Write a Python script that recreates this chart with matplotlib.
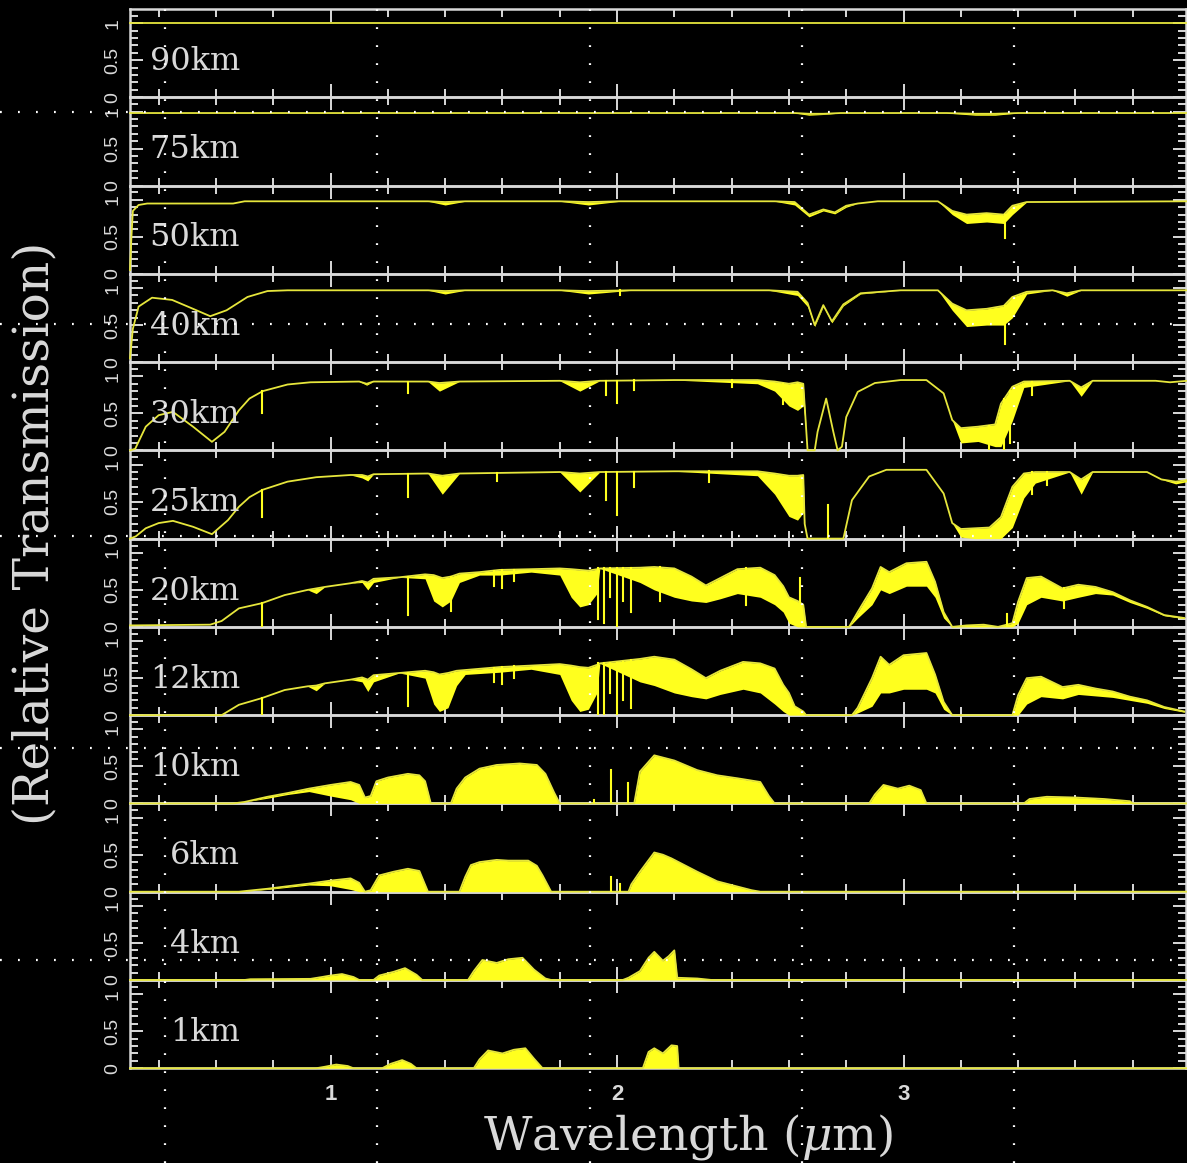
import matplotlib.pyplot as plt
import matplotlib.transforms as mtransforms
from matplotlib.lines import Line2D
from matplotlib.ticker import FixedLocator, MultipleLocator

plt.rcParams['font.family'] = ['DejaVu Serif']
plt.rcParams['mathtext.fontset'] = 'dejavuserif'

FG = '#d9d9d9'
YEL = '#ffff1e'
LINE = '#e6e63c'

# transmission per altitude: wavelength (um), upper envelope, lower envelope
# of the absorption forest, plus single lines as (um, top, bottom)
wl_90 = [0.30, 3.99]
hi_90 = [1.00, 1.00]
lo_90 = [1.00, 1.00]
sp_90 = []

wl_75 = [0.30, 2.62, 2.67, 2.72, 2.78, 3.15, 3.25, 3.32, 3.40, 3.99]
hi_75 = [0.98, 0.98, 0.97, 0.97, 0.98, 0.98, 0.97, 0.97, 0.98, 0.98]
lo_75 = [0.98, 0.98, 0.95, 0.96, 0.98, 0.98, 0.95, 0.95, 0.98, 0.98]
sp_75 = []

wl_50 = [0.30, 0.305, 0.31, 0.33, 0.36, 0.66, 0.70, 1.34, 1.40, 1.47, 1.80, 1.90, 2.01,
         2.55, 2.62, 2.67, 2.72, 2.76, 2.80, 2.84, 2.91,
         3.12, 3.17, 3.22, 3.29, 3.35, 3.38, 3.43, 3.99]
hi_50 = [0.05, 0.50, 0.85, 0.93, 0.95, 0.95, 0.98, 0.98, 0.97, 0.98, 0.98, 0.97, 0.98,
         0.98, 0.97, 0.80, 0.87, 0.83, 0.92, 0.95, 0.98,
         0.98, 0.85, 0.80, 0.82, 0.80, 0.92, 0.97, 0.98]
lo_50 = [0.05, 0.50, 0.85, 0.93, 0.95, 0.95, 0.98, 0.98, 0.93, 0.98, 0.98, 0.93, 0.98,
         0.98, 0.93, 0.77, 0.85, 0.81, 0.90, 0.95, 0.98,
         0.98, 0.80, 0.68, 0.70, 0.68, 0.80, 0.97, 0.98]
sp_50 = [(3.355, 0.80, 0.49)]

wl_40 = [0.30, 0.31, 0.33, 0.377, 0.447, 0.52, 0.58, 0.637, 0.71, 0.78, 0.85,
         1.34, 1.40, 1.47, 1.80, 1.90, 2.05,
         2.53, 2.63, 2.665, 2.69, 2.72, 2.75, 2.79, 2.85, 2.99,
         3.12, 3.17, 3.22, 3.29, 3.35, 3.38, 3.43, 3.52, 3.57, 3.62, 3.99]
hi_40 = [0.05, 0.45, 0.75, 0.87, 0.84, 0.72, 0.62, 0.70, 0.88, 0.96, 0.97,
         0.97, 0.96, 0.97, 0.97, 0.96, 0.97,
         0.97, 0.95, 0.80, 0.50, 0.77, 0.55, 0.78, 0.93, 0.97,
         0.97, 0.79, 0.70, 0.72, 0.76, 0.88, 0.95, 0.97, 0.93, 0.97, 0.97]
lo_40 = [0.05, 0.45, 0.75, 0.87, 0.84, 0.72, 0.62, 0.70, 0.88, 0.96, 0.97,
         0.97, 0.92, 0.97, 0.97, 0.92, 0.97,
         0.97, 0.90, 0.75, 0.48, 0.75, 0.53, 0.76, 0.92, 0.97,
         0.97, 0.70, 0.48, 0.50, 0.50, 0.60, 0.92, 0.97, 0.89, 0.97, 0.97]
sp_40 = [(3.355, 0.76, 0.25), (2.01, 0.97, 0.90)]

wl_30 = [0.30, 0.318, 0.355, 0.40, 0.45, 0.52, 0.586, 0.63, 0.68, 0.717, 0.763, 0.85, 0.93,
         1.10, 1.126, 1.15, 1.34, 1.38, 1.45, 1.80, 1.87, 1.94, 2.20,
         2.49, 2.55, 2.60, 2.63, 2.65, 2.66, 2.665, 2.69, 2.70, 2.73, 2.755, 2.77, 2.785,
         2.80, 2.84, 2.90, 2.99, 3.08, 3.14, 3.17, 3.20, 3.26, 3.32, 3.34, 3.38, 3.42,
         3.58, 3.62, 3.66, 3.88, 3.93, 3.99]
hi_30 = [0.00, 0.02, 0.32, 0.475, 0.52, 0.32, 0.115, 0.25, 0.54, 0.70, 0.80, 0.89, 0.92,
         0.93, 0.90, 0.93, 0.93, 0.91, 0.93, 0.94, 0.92, 0.94, 0.95,
         0.95, 0.93, 0.90, 0.92, 0.90, 0.30, 0.00, 0.00, 0.25, 0.70, 0.25, 0.00, 0.05,
         0.45, 0.79, 0.91, 0.95, 0.95, 0.77, 0.41, 0.30, 0.32, 0.35, 0.63, 0.86, 0.93,
         0.94, 0.85, 0.94, 0.94, 0.92, 0.94]
lo_30 = [0.00, 0.02, 0.32, 0.475, 0.52, 0.32, 0.115, 0.25, 0.54, 0.70, 0.80, 0.89, 0.92,
         0.93, 0.88, 0.93, 0.93, 0.80, 0.93, 0.94, 0.80, 0.94, 0.95,
         0.90, 0.80, 0.60, 0.54, 0.60, 0.30, 0.00, 0.00, 0.25, 0.70, 0.25, 0.00, 0.05,
         0.45, 0.79, 0.91, 0.95, 0.95, 0.77, 0.41, 0.10, 0.12, 0.05, 0.05, 0.40, 0.85,
         0.94, 0.73, 0.94, 0.94, 0.92, 0.94]
sp_30 = [(0.762, 0.80, 0.50), (1.27, 0.93, 0.77), (1.96, 0.94, 0.75), (2.00, 0.94, 0.64),
         (2.06, 0.95, 0.82), (2.40, 0.95, 0.86), (2.58, 0.90, 0.62), (3.30, 0.33, 0.00),
         (3.35, 0.70, 0.00), (3.37, 0.80, 0.10), (3.45, 0.93, 0.75)]

wl_25 = [0.30, 0.32, 0.355, 0.40, 0.45, 0.52, 0.586, 0.642, 0.68, 0.717, 0.763, 0.85, 0.95,
         1.07, 1.11, 1.13, 1.15, 1.34, 1.39, 1.45, 1.80, 1.87, 1.94, 2.20,
         2.49, 2.55, 2.60, 2.63, 2.65, 2.655, 2.665, 2.79, 2.82, 2.88, 2.94,
         3.08, 3.14, 3.17, 3.20, 3.25, 3.30, 3.34, 3.38, 3.42, 3.46,
         3.58, 3.62, 3.66, 3.85, 3.90, 3.95, 3.99]
hi_25 = [0.00, 0.03, 0.14, 0.21, 0.24, 0.16, 0.06, 0.25, 0.43, 0.56, 0.66, 0.77, 0.83,
         0.86, 0.86, 0.84, 0.87, 0.88, 0.85, 0.88, 0.90, 0.88, 0.90, 0.91,
         0.91, 0.88, 0.85, 0.85, 0.86, 0.20, 0.00, 0.00, 0.52, 0.84, 0.93,
         0.93, 0.61, 0.21, 0.13, 0.14, 0.15, 0.29, 0.70, 0.88, 0.90,
         0.90, 0.80, 0.90, 0.90, 0.80, 0.77, 0.79]
lo_25 = [0.00, 0.03, 0.14, 0.21, 0.24, 0.16, 0.06, 0.25, 0.43, 0.56, 0.66, 0.77, 0.83,
         0.86, 0.82, 0.78, 0.87, 0.88, 0.60, 0.88, 0.90, 0.63, 0.90, 0.91,
         0.85, 0.60, 0.30, 0.25, 0.35, 0.20, 0.00, 0.00, 0.52, 0.84, 0.93,
         0.93, 0.61, 0.21, 0.02, 0.00, 0.00, 0.00, 0.15, 0.55, 0.75,
         0.90, 0.60, 0.90, 0.90, 0.80, 0.74, 0.77]
sp_25 = [(0.762, 0.66, 0.29), (1.27, 0.88, 0.56), (1.58, 0.89, 0.78), (1.96, 0.90, 0.52),
         (2.00, 0.90, 0.32), (2.06, 0.90, 0.70), (2.32, 0.91, 0.76), (2.735, 0.45, 0.00),
         (3.45, 0.90, 0.60), (3.50, 0.90, 0.72)]

wl_20 = [0.30, 0.58, 0.62, 0.68, 0.76, 0.84, 0.92, 0.95, 0.98, 1.07, 1.11, 1.13, 1.15,
         1.24, 1.33, 1.36, 1.39, 1.42, 1.45, 1.52, 1.59, 1.70, 1.80, 1.84, 1.87, 1.90,
         1.93, 1.94, 2.08, 2.13, 2.20, 2.26, 2.31, 2.36, 2.42, 2.50, 2.55, 2.58, 2.60,
         2.63, 2.65, 2.66, 2.81, 2.84, 2.89, 2.92, 2.95, 3.01, 3.08, 3.11, 3.14, 3.17,
         3.22, 3.28, 3.33, 3.38, 3.40, 3.43, 3.48, 3.555, 3.61, 3.67, 3.73, 3.79, 3.85,
         3.91, 3.98]
hi_20 = [0.02, 0.03, 0.08, 0.25, 0.32, 0.43, 0.50, 0.52, 0.54, 0.59, 0.62, 0.60, 0.65,
         0.67, 0.71, 0.70, 0.66, 0.68, 0.72, 0.74, 0.77, 0.78, 0.79, 0.78, 0.77, 0.76,
         0.78, 0.79, 0.80, 0.81, 0.79, 0.68, 0.56, 0.66, 0.78, 0.80, 0.70, 0.55, 0.40,
         0.35, 0.30, 0.00, 0.00, 0.20, 0.52, 0.81, 0.74, 0.86, 0.88, 0.61, 0.20, 0.00,
         0.02, 0.03, 0.00, 0.05, 0.34, 0.66, 0.68, 0.52, 0.57, 0.54, 0.47, 0.36, 0.27,
         0.16, 0.12]
lo_20 = [0.02, 0.03, 0.08, 0.25, 0.32, 0.43, 0.50, 0.45, 0.54, 0.59, 0.60, 0.50, 0.60,
         0.67, 0.65, 0.35, 0.27, 0.35, 0.60, 0.70, 0.70, 0.74, 0.70, 0.40, 0.27, 0.30,
         0.45, 0.79, 0.60, 0.50, 0.40, 0.35, 0.33, 0.38, 0.45, 0.40, 0.30, 0.20, 0.05,
         0.00, 0.00, 0.00, 0.00, 0.12, 0.30, 0.50, 0.45, 0.55, 0.55, 0.40, 0.12, 0.00,
         0.00, 0.00, 0.00, 0.00, 0.05, 0.30, 0.40, 0.35, 0.40, 0.45, 0.43, 0.33, 0.25,
         0.15, 0.11]
sp_20 = [(0.762, 0.32, 0.00), (1.27, 0.68, 0.16), (1.42, 0.68, 0.21), (1.57, 0.76, 0.55),
         (1.60, 0.77, 0.52), (1.64, 0.77, 0.62), (1.935, 0.79, 0.10), (1.955, 0.79, 0.05),
         (1.975, 0.79, 0.40), (2.00, 0.79, 0.00), (2.02, 0.79, 0.35), (2.05, 0.80, 0.20),
         (2.15, 0.81, 0.35), (2.45, 0.79, 0.30), (2.64, 0.66, 0.00), (3.36, 0.18, 0.00),
         (3.56, 0.52, 0.25)]

wl_12 = [0.30, 0.62, 0.68, 0.76, 0.84, 0.92, 0.95, 0.98, 1.07, 1.11, 1.13, 1.15, 1.24,
         1.33, 1.36, 1.38, 1.41, 1.44, 1.47, 1.59, 1.70, 1.80, 1.84, 1.87, 1.90, 1.93,
         1.94, 2.08, 2.13, 2.20, 2.26, 2.31, 2.36, 2.44, 2.50, 2.55, 2.58, 2.60, 2.62,
         2.65, 2.66, 2.82, 2.84, 2.89, 2.92, 2.95, 3.00, 3.08, 3.11, 3.14, 3.17, 3.38,
         3.40, 3.43, 3.48, 3.555, 3.61, 3.67, 3.73, 3.79, 3.85, 3.91, 3.98]
hi_12 = [0.00, 0.00, 0.14, 0.23, 0.34, 0.39, 0.40, 0.43, 0.48, 0.51, 0.48, 0.54, 0.57,
         0.60, 0.58, 0.55, 0.57, 0.60, 0.61, 0.65, 0.67, 0.69, 0.67, 0.65, 0.64, 0.68,
         0.70, 0.76, 0.79, 0.75, 0.62, 0.50, 0.60, 0.72, 0.70, 0.63, 0.41, 0.30, 0.12,
         0.05, 0.00, 0.00, 0.10, 0.50, 0.79, 0.68, 0.81, 0.84, 0.55, 0.18, 0.00, 0.00,
         0.27, 0.50, 0.52, 0.38, 0.41, 0.36, 0.32, 0.25, 0.20, 0.11, 0.05]
lo_12 = [0.00, 0.00, 0.14, 0.23, 0.34, 0.39, 0.33, 0.43, 0.48, 0.45, 0.32, 0.45, 0.57,
         0.50, 0.15, 0.05, 0.10, 0.40, 0.55, 0.58, 0.62, 0.55, 0.20, 0.05, 0.08, 0.30,
         0.70, 0.45, 0.40, 0.30, 0.25, 0.22, 0.28, 0.35, 0.30, 0.15, 0.05, 0.00, 0.00,
         0.00, 0.00, 0.00, 0.03, 0.12, 0.30, 0.30, 0.35, 0.35, 0.30, 0.08, 0.00, 0.00,
         0.00, 0.15, 0.25, 0.22, 0.28, 0.26, 0.24, 0.20, 0.16, 0.09, 0.04]
sp_12 = [(0.762, 0.23, 0.00), (1.27, 0.57, 0.12), (1.57, 0.64, 0.45), (1.60, 0.65, 0.42),
         (1.64, 0.66, 0.50), (1.935, 0.70, 0.00), (1.955, 0.70, 0.00), (1.975, 0.70, 0.30),
         (2.00, 0.70, 0.00), (2.02, 0.72, 0.20), (2.05, 0.74, 0.10)]

wl_10 = [0.30, 0.66, 0.70, 0.78, 0.85, 0.925, 1.00, 1.07, 1.10, 1.12, 1.14, 1.16, 1.20,
         1.27, 1.31, 1.33, 1.35, 1.42, 1.44, 1.47, 1.52, 1.58, 1.66, 1.72, 1.75, 1.78,
         1.80, 2.06, 2.08, 2.13, 2.20, 2.28, 2.35, 2.42, 2.50, 2.53, 2.55, 2.88, 2.90,
         2.93, 2.98, 3.02, 3.06, 3.08, 3.42, 3.44, 3.50, 3.60, 3.70, 3.79, 3.80, 3.99]
hi_10 = [0.00, 0.00, 0.02, 0.09, 0.14, 0.20, 0.25, 0.29, 0.25, 0.08, 0.10, 0.30, 0.35,
         0.40, 0.38, 0.30, 0.00, 0.00, 0.20, 0.35, 0.47, 0.52, 0.54, 0.52, 0.40, 0.15,
         0.00, 0.00, 0.43, 0.65, 0.58, 0.45, 0.38, 0.34, 0.29, 0.10, 0.00, 0.00, 0.12,
         0.25, 0.20, 0.24, 0.18, 0.00, 0.00, 0.06, 0.09, 0.08, 0.06, 0.03, 0.00, 0.00]
lo_10 = [0.00, 0.00, 0.02, 0.07, 0.12, 0.16, 0.10, 0.05, 0.00, 0.00, 0.00, 0.00, 0.00,
         0.00, 0.00, 0.00, 0.00, 0.00, 0.00, 0.00, 0.00, 0.00, 0.00, 0.00, 0.00, 0.00,
         0.00, 0.00, 0.00, 0.00, 0.00, 0.00, 0.00, 0.00, 0.00, 0.00, 0.00, 0.00, 0.00,
         0.00, 0.00, 0.00, 0.00, 0.00, 0.00, 0.00, 0.00, 0.00, 0.00, 0.00, 0.00, 0.00]
sp_10 = [(1.92, 0.05, 0.00), (1.98, 0.45, 0.00), (2.04, 0.27, 0.00)]

wl_6 = [0.30, 0.68, 0.78, 0.925, 1.00, 1.07, 1.10, 1.12, 1.14, 1.17, 1.22, 1.27, 1.31,
        1.34, 1.45, 1.47, 1.49, 1.52, 1.58, 1.62, 1.69, 1.72, 1.74, 1.77, 2.04, 2.05,
        2.08, 2.13, 2.16, 2.19, 2.24, 2.28, 2.35, 2.42, 2.47, 2.50, 3.99]
hi_6 = [0.00, 0.00, 0.04, 0.11, 0.15, 0.18, 0.12, 0.00, 0.02, 0.22, 0.27, 0.31, 0.28,
        0.00, 0.00, 0.20, 0.36, 0.40, 0.43, 0.42, 0.42, 0.35, 0.22, 0.00, 0.00, 0.10,
        0.27, 0.53, 0.50, 0.45, 0.35, 0.27, 0.14, 0.07, 0.02, 0.00, 0.00]
lo_6 = [0.00, 0.00, 0.03, 0.09, 0.08, 0.03, 0.00, 0.00, 0.00, 0.00, 0.00, 0.00, 0.00,
        0.00, 0.00, 0.00, 0.00, 0.00, 0.00, 0.00, 0.00, 0.00, 0.00, 0.00, 0.00, 0.00,
        0.00, 0.00, 0.00, 0.00, 0.00, 0.00, 0.00, 0.00, 0.00, 0.00, 0.00]
sp_6 = [(1.98, 0.20, 0.00), (2.01, 0.10, 0.00)]

wl_4 = [0.30, 0.70, 0.72, 0.93, 0.97, 1.00, 1.04, 1.08, 1.10, 1.15, 1.17, 1.22, 1.26,
        1.30, 1.32, 1.48, 1.50, 1.53, 1.58, 1.62, 1.67, 1.71, 1.75, 1.77, 2.02, 2.04,
        2.08, 2.11, 2.13, 2.16, 2.18, 2.20, 2.21, 2.28, 2.33, 3.99]
hi_4 = [0.00, 0.00, 0.01, 0.015, 0.04, 0.06, 0.08, 0.04, 0.00, 0.00, 0.06, 0.11, 0.16,
        0.07, 0.00, 0.00, 0.12, 0.27, 0.23, 0.28, 0.30, 0.14, 0.02, 0.00, 0.00, 0.03,
        0.12, 0.30, 0.38, 0.26, 0.32, 0.40, 0.03, 0.02, 0.00, 0.00]
lo_4 = [0.00] * len(wl_4)
sp_4 = []

wl_1 = [0.30, 0.95, 0.98, 1.02, 1.06, 1.08, 1.18, 1.21, 1.25, 1.28, 1.30, 1.50, 1.52,
        1.55, 1.60, 1.64, 1.68, 1.71, 1.74, 2.09, 2.11, 2.13, 2.16, 2.19, 2.21, 2.215, 3.99]
hi_1 = [0.00, 0.00, 0.02, 0.05, 0.03, 0.00, 0.00, 0.06, 0.11, 0.06, 0.00, 0.00, 0.12,
        0.24, 0.20, 0.25, 0.27, 0.13, 0.00, 0.00, 0.22, 0.27, 0.20, 0.31, 0.30, 0.00, 0.00]
lo_1 = [0.00] * len(wl_1)
sp_1 = []

panels = [
    ('90km', wl_90, hi_90, lo_90, sp_90),
    ('75km', wl_75, hi_75, lo_75, sp_75),
    ('50km', wl_50, hi_50, lo_50, sp_50),
    ('40km', wl_40, hi_40, lo_40, sp_40),
    ('30km', wl_30, hi_30, lo_30, sp_30),
    ('25km', wl_25, hi_25, lo_25, sp_25),
    ('20km', wl_20, hi_20, lo_20, sp_20),
    ('12km', wl_12, hi_12, lo_12, sp_12),
    ('10km', wl_10, hi_10, lo_10, sp_10),
    ('6km', wl_6, hi_6, lo_6, sp_6),
    ('4km', wl_4, hi_4, lo_4, sp_4),
    ('1km', wl_1, hi_1, lo_1, sp_1),
]

W, H = 1187, 1163
fig = plt.figure(figsize=(W / 100, H / 100), dpi=100, facecolor='black')

x_left, x_right = 130, 1186
y_top, ph = 9, 88.27
n = len(panels)
for i, (label, wl, hi, lo, sp) in enumerate(panels):
    y_bot = y_top + ph * (i + 1)
    ax = fig.add_axes([x_left / W, 1 - y_bot / H, (x_right - x_left) / W, ph / H])
    ax.patch.set_visible(False)
    ax.set_zorder(n - i)

    ax.fill_between(wl, lo, hi, color=YEL, lw=0, zorder=3)
    ax.plot(wl, hi, color=LINE, lw=1.3, zorder=4, clip_on=False)
    for x, t, b in sp:
        ax.plot([x, x], [b, t], color=YEL, lw=1.5, zorder=4)

    ax.set_xlim(0.3, 3.986)
    ax.set_ylim(0, 1.193)

    for s in ax.spines.values():
        s.set_color(FG)
        s.set_linewidth(1.8)

    ax.xaxis.set_major_locator(FixedLocator([1, 2, 3]))
    ax.xaxis.set_minor_locator(MultipleLocator(0.2))
    ax.yaxis.set_major_locator(FixedLocator([0, 0.5, 1]))
    ax.yaxis.set_minor_locator(MultipleLocator(0.1))
    ax.tick_params(which='both', direction='in', top=True, bottom=True,
                   left=True, right=True, colors=FG, width=1.4)
    ax.tick_params(which='major', length=9.5)
    ax.tick_params(which='minor', length=5.5)
    ax.tick_params(axis='y', which='major', pad=6, labelsize=14,
                   labelfontfamily='Liberation Sans')
    ax.set_yticklabels(['0', '0.5', '1'], rotation=90, va='center')

    if i == n - 1:
        ax.tick_params(axis='x', which='major', pad=11, labelsize=16,
                       labelfontfamily='Liberation Sans')
        ax.set_xticklabels(['1', '2', '3'], fontweight='bold')
    else:
        ax.tick_params(axis='x', labelbottom=False)

    tr = mtransforms.blended_transform_factory(ax.transData, ax.transAxes)
    ax.text(0.684, 0.31, label, transform=tr, ha='right', va='baseline',
            fontsize=23, color=FG, zorder=6)

fig.text(35 / W, 1 - 533 / H, '(Relative Transmission)', rotation=90,
         ha='center', va='center', fontsize=35, color=FG)
fig.text(688 / W, 1 - 1137 / H, r'Wavelength ($\mu$m)',
         ha='center', va='center', fontsize=34, color=FG)

# dotted guide grid across the whole figure
for gx in [165, 377, 590, 802, 1014]:
    fig.add_artist(Line2D([gx / W, gx / W], [0, 1], transform=fig.transFigure,
                          color='white', lw=1.6, ls=(0, (0.8, 7.3)), zorder=50))
for gy in [112, 324, 536, 748, 960]:
    fig.add_artist(Line2D([0, 1], [1 - gy / H, 1 - gy / H], transform=fig.transFigure,
                          color='white', lw=1.6, ls=(0, (0.8, 7.3)), zorder=50))

fig.savefig('out.png', dpi=100, facecolor='black')
